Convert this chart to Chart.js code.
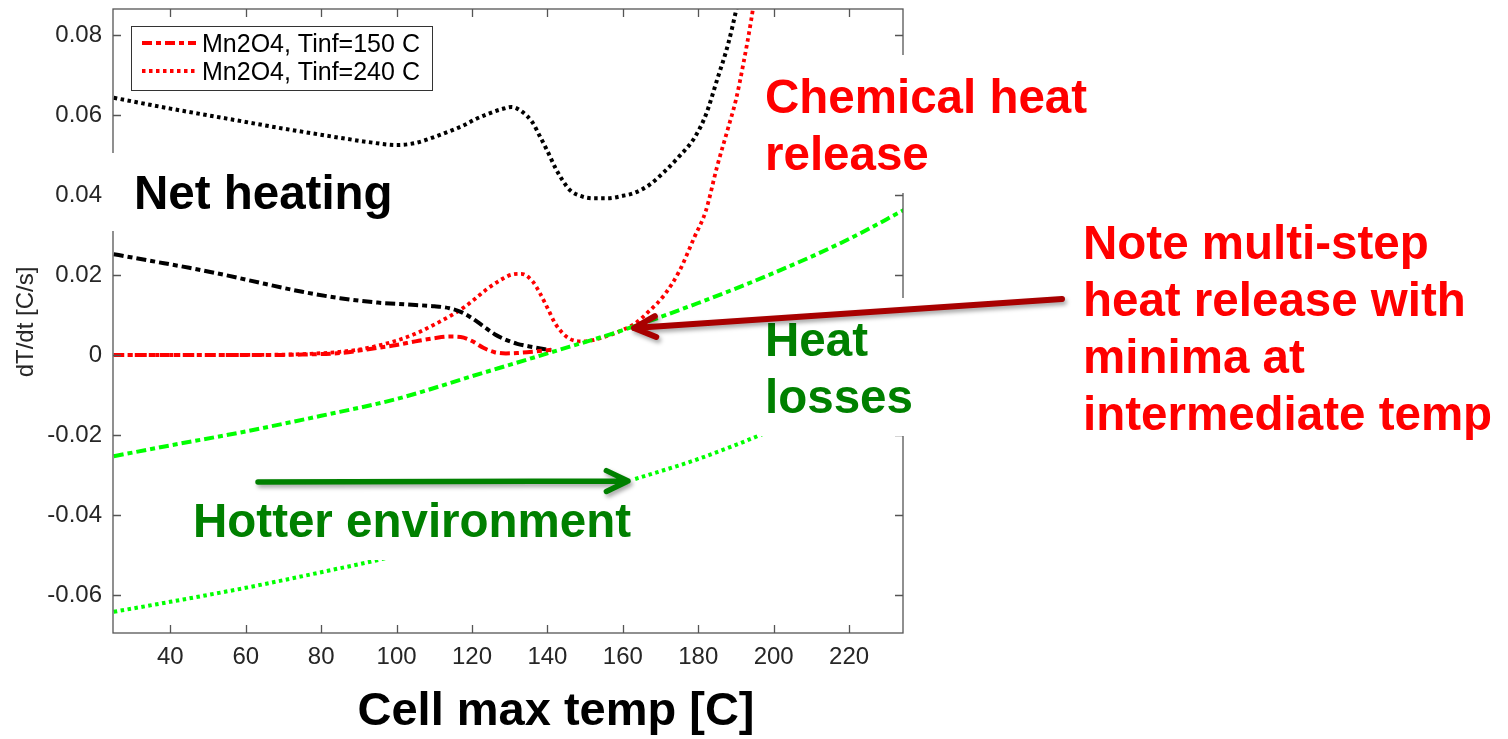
<!DOCTYPE html>
<html>
<head>
<meta charset="utf-8">
<title>Net heating vs cell max temp</title>
<script src="https://cdn.jsdelivr.net/npm/chart.js@4.4.1/dist/chart.umd.min.js"></script>
<style>
  html, body { margin: 0; padding: 0; background: #fff; overflow: hidden; }
  #wrap { position: relative; width: 1508px; height: 739px; }
</style>
</head>
<body>
<div id="wrap"><canvas id="heatChart"></canvas></div>
<script>
// axis ticks
const xTicks = [40, 60, 80, 100, 120, 140, 160, 180, 200, 220];
const yTicks = [-0.06, -0.04, -0.02, 0, 0.02, 0.04, 0.06, 0.08];

// Tinf = 150 C (net heating + chemical heat release)
const temp150 = [25, 35, 45, 55, 65, 75, 85, 95, 100, 105, 110, 114, 117, 120, 123, 126, 129, 132, 136, 141];
const net150  = [0.0252, 0.0235, 0.0218, 0.0199, 0.0178, 0.0158, 0.0142, 0.0131, 0.0128, 0.0125,
                 0.0122, 0.0117, 0.0108, 0.0092, 0.0072, 0.0052, 0.0038, 0.0028, 0.0020, 0.0012];
const chem150 = [0, 0, 0, 0, 0, 0.0001, 0.0005, 0.0018, 0.0025, 0.0034,
                 0.0042, 0.0046, 0.0045, 0.0035, 0.0018, 0.0007, 0.0004, 0.0005, 0.0008, 0.0013];

// Tinf = 240 C (net heating + chemical heat release)
const temp240 = [25, 40, 55, 70, 85, 92, 100, 105, 110, 115, 118, 121, 124, 128, 130.5, 133, 136, 138, 140,
                 142, 144, 146, 149, 152, 156, 160, 163, 167, 171, 175, 179, 182, 185, 188, 190, 192, 194, 196];
const net240  = [0.0643, 0.0616, 0.0591, 0.0566, 0.0543, 0.0533, 0.0525, 0.0530, 0.0545, 0.0563, 0.0575,
                 0.0590, 0.0602, 0.0615, 0.0620, 0.0610, 0.0582, 0.0547, 0.0510, 0.0470, 0.0437, 0.0412,
                 0.0397, 0.0392, 0.0392, 0.0398, 0.0405, 0.0425, 0.0458, 0.0497, 0.0543, 0.0600, 0.0688,
                 0.0780, 0.0860, 0.0950, 0.1050, 0.1150];
const chem240 = [0, 0, 0, 0.0001, 0.0008, 0.0017, 0.0036, 0.0053, 0.0076, 0.0102, 0.0120,
                 0.0142, 0.0165, 0.0190, 0.0201, 0.0203, 0.0185, 0.0155, 0.0118, 0.0080, 0.0055, 0.0040,
                 0.0034, 0.0037, 0.0048, 0.0063, 0.0077, 0.0110, 0.0150, 0.0210, 0.0295, 0.0360, 0.0471,
                 0.0570, 0.0638, 0.0730, 0.0835, 0.0960];

// heat losses for both environments
const tempLoss = [25, 40, 60, 80, 100, 120, 140, 160, 180, 200, 220, 235];
const loss150  = [-0.0253, -0.0226, -0.0191, -0.0152, -0.0110, -0.0053, 0.0004, 0.0062, 0.0130, 0.0205, 0.0290, 0.0365];
const loss240  = [-0.0642, -0.0617, -0.0582, -0.0543, -0.0501, -0.0444, -0.0386, -0.0320, -0.0260, -0.0186, -0.0100, -0.0025];

const legendLabels = ['Mn2O4, Tinf=150 C', 'Mn2O4, Tinf=240 C'];

const FONT = '"Liberation Sans", Arial, sans-serif';
const DASH_DOT = [10, 4, 5, 4];
const DOTTED = [3.5, 3.5];

function toPoints(xs, ys) {
    return xs.map((x, i) => ({ x: x, y: ys[i] }));
}

function lineSet(label, xs, ys, color, dash, width) {
    return {
        label: label,
        data: toPoints(xs, ys),
        borderColor: color,
        borderDash: dash,
        borderWidth: width,
        borderCapStyle: 'butt',
        pointRadius: 0,
        fill: false,
        cubicInterpolationMode: 'monotone',
        clip: 0
    };
}

// white label boxes that sit over the plot, like the pasted text boxes on the slide
const boxes = [
    { x: 106, y: 153, w: 294, h: 78 },   // Net heating
    { x: 757, y: 55, w: 340, h: 138 },   // Chemical heat release
    { x: 757, y: 298, w: 160, h: 138 },  // Heat losses
    { x: 185, y: 470, w: 448, h: 90 }    // Hotter environment
];

const notes = [
    { lines: ['Net heating'], x: 134, y: 209, color: '#000000' },
    { lines: ['Chemical heat', 'release'], x: 765, y: 113, color: '#ff0000' },
    { lines: ['Note multi-step', 'heat release with', 'minima at', 'intermediate temp'], x: 1083, y: 259, color: '#ff0000' },
    { lines: ['Heat', 'losses'], x: 765, y: 356, color: '#008000' },
    { lines: ['Hotter environment'], x: 193, y: 537, color: '#008000' }
];

function drawArrow(ctx, x0, y0, x1, y1, color, width, head) {
    const ang = Math.atan2(y1 - y0, x1 - x0);
    ctx.save();
    ctx.strokeStyle = color;
    ctx.lineWidth = width;
    ctx.lineCap = 'round';
    ctx.lineJoin = 'round';
    ctx.shadowColor = 'rgba(0,0,0,0.35)';
    ctx.shadowBlur = 4;
    ctx.shadowOffsetX = 2;
    ctx.shadowOffsetY = 3;
    ctx.beginPath();
    ctx.moveTo(x0, y0);
    ctx.lineTo(x1, y1);
    ctx.moveTo(x1 - head * Math.cos(ang - 0.45), y1 - head * Math.sin(ang - 0.45));
    ctx.lineTo(x1, y1);
    ctx.lineTo(x1 - head * Math.cos(ang + 0.45), y1 - head * Math.sin(ang + 0.45));
    ctx.stroke();
    ctx.restore();
}

const overlayPlugin = {
    id: 'overlay',
    afterDraw(chart) {
        const ctx = chart.ctx;
        const area = chart.chartArea;
        const xs = chart.scales.x;
        const ys = chart.scales.y;
        ctx.save();

        // axes box with inward ticks on all sides
        ctx.strokeStyle = '#555555';
        ctx.lineWidth = 1.3;
        ctx.strokeRect(area.left, area.top, area.right - area.left, area.bottom - area.top);
        ctx.beginPath();
        xTicks.forEach(v => {
            const px = Math.round(xs.getPixelForValue(v)) + 0.5;
            ctx.moveTo(px, area.bottom); ctx.lineTo(px, area.bottom - 8);
            ctx.moveTo(px, area.top); ctx.lineTo(px, area.top + 8);
        });
        yTicks.forEach(v => {
            const py = Math.round(ys.getPixelForValue(v)) + 0.5;
            ctx.moveTo(area.left, py); ctx.lineTo(area.left + 8, py);
            ctx.moveTo(area.right, py); ctx.lineTo(area.right - 8, py);
        });
        ctx.stroke();

        // white text boxes
        ctx.fillStyle = '#ffffff';
        boxes.forEach(b => ctx.fillRect(b.x, b.y, b.w, b.h));

        // legend
        ctx.fillStyle = '#ffffff';
        ctx.fillRect(131, 26, 301, 64);
        ctx.strokeStyle = '#333333';
        ctx.lineWidth = 1;
        ctx.strokeRect(131.5, 26.5, 301, 64);
        const legendSets = [chart.data.datasets[0], chart.data.datasets[3]];
        legendSets.forEach((ds, i) => {
            const ly = 43 + i * 28;
            ctx.save();
            ctx.strokeStyle = ds.borderColor;
            ctx.lineWidth = ds.borderWidth;
            ctx.setLineDash(ds.borderDash);
            ctx.beginPath();
            ctx.moveTo(142, ly);
            ctx.lineTo(196, ly);
            ctx.stroke();
            ctx.restore();
            ctx.fillStyle = '#000000';
            ctx.font = '25px ' + FONT;
            ctx.textAlign = 'left';
            ctx.textBaseline = 'alphabetic';
            ctx.fillText(legendLabels[i], 202, ly + 9);
        });

        // annotation texts
        ctx.font = 'bold 47.5px ' + FONT;
        ctx.textAlign = 'left';
        ctx.textBaseline = 'alphabetic';
        notes.forEach(n => {
            ctx.fillStyle = n.color;
            n.lines.forEach((t, i) => ctx.fillText(t, n.x, n.y + i * 57));
        });

        // arrows
        drawArrow(ctx, 1062, 299, 634, 328, '#a80000', 6, 24);
        drawArrow(ctx, 258, 482, 628, 481, '#008000', 5.5, 24);

        // axis titles
        ctx.fillStyle = '#000000';
        ctx.font = 'bold 47px ' + FONT;
        ctx.textAlign = 'center';
        ctx.fillText('Cell max temp [C]', 556, 725);

        ctx.save();
        ctx.translate(33, 322);
        ctx.rotate(-Math.PI / 2);
        ctx.fillStyle = '#262626';
        ctx.font = '24px ' + FONT;
        ctx.textAlign = 'center';
        ctx.fillText('dT/dt [C/s]', 0, 0);
        ctx.restore();

        ctx.restore();
    }
};

document.addEventListener('DOMContentLoaded', () => {
    Chart.defaults.font.family = FONT;
    const ctx = document.getElementById('heatChart').getContext('2d');

    new Chart(ctx, {
        type: 'line',
        data: {
            datasets: [
                lineSet(legendLabels[0], temp150, chem150, '#ff0000', DASH_DOT, 4),
                lineSet('Net 150', temp150, net150, '#000000', DASH_DOT, 4),
                lineSet('Loss 150', tempLoss, loss150, '#00ff00', DASH_DOT, 4),
                lineSet(legendLabels[1], temp240, chem240, '#ff0000', DOTTED, 3.8),
                lineSet('Net 240', temp240, net240, '#000000', DOTTED, 4),
                lineSet('Loss 240', tempLoss, loss240, '#00ff00', DOTTED, 4)
            ]
        },
        options: {
            responsive: true,
            maintainAspectRatio: false,
            animation: false,
            layout: { padding: { left: 0, top: 9, right: 605, bottom: 0 } },
            plugins: {
                legend: { display: false },
                tooltip: { enabled: false }
            },
            scales: {
                x: {
                    type: 'linear',
                    min: 24.8,
                    max: 234.3,
                    grid: { display: false, drawTicks: false },
                    border: { display: false },
                    afterBuildTicks: scale => { scale.ticks = xTicks.map(v => ({ value: v })); },
                    afterFit: scale => {
                        scale.height = 106;
                        scale.paddingLeft = 0;
                        scale.paddingRight = 0;
                    },
                    ticks: {
                        padding: 10,
                        color: '#262626',
                        font: { size: 24 },
                        maxRotation: 0,
                        callback: v => String(v)
                    }
                },
                y: {
                    type: 'linear',
                    min: -0.0695,
                    max: 0.0865,
                    grid: { display: false, drawTicks: false },
                    border: { display: false },
                    afterBuildTicks: scale => { scale.ticks = yTicks.map(v => ({ value: v })); },
                    afterFit: scale => {
                        scale.width = 113;
                        scale.paddingTop = 0;
                        scale.paddingBottom = 0;
                    },
                    ticks: {
                        padding: 11,
                        color: '#262626',
                        font: { size: 24 },
                        callback: v => (Math.abs(v) < 1e-9 ? '0' : v.toFixed(2))
                    }
                }
            }
        },
        plugins: [overlayPlugin]
    });
});
</script>
</body>
</html>
